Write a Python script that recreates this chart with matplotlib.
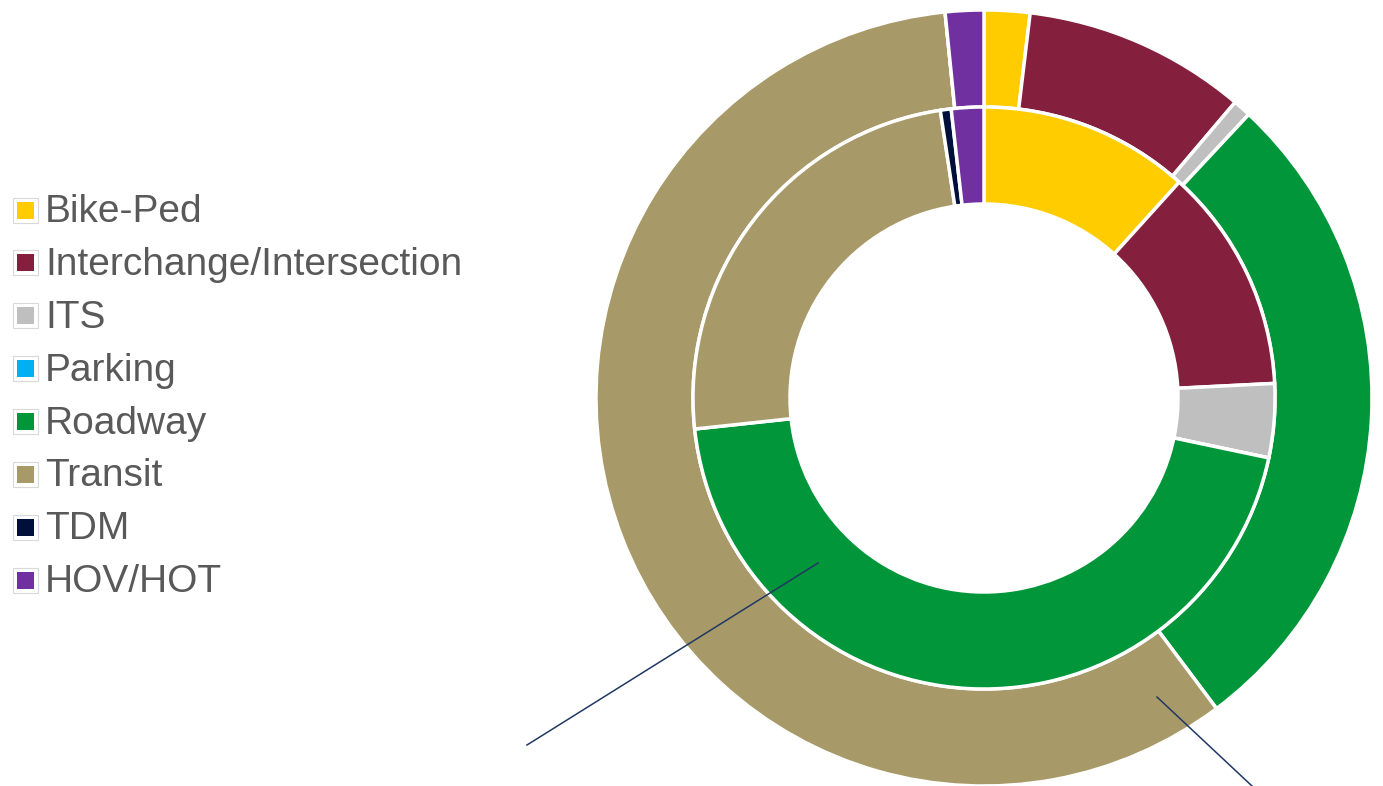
import matplotlib.pyplot as plt
from matplotlib.patches import Rectangle

categories = ["Bike-Ped", "Interchange/Intersection", "ITS", "Parking",
              "Roadway", "Transit", "TDM", "HOV/HOT"]
colors = ["#FFCC00", "#841F3D", "#BFBFBF", "#00B0F0",
          "#009639", "#A89968", "#00103A", "#7030A0"]

# share of funding (%)
inner_share = [11.7, 12.5, 4.1, 0.0, 45.0, 24.3, 0.6, 1.8]
outer_share = [1.9, 9.3, 0.75, 0.0, 27.8, 58.6, 0.0, 1.6]

W, H = 1383, 786
CX, CY, R = 984, 398, 388


def px(x, y):
    # pixel position (from top-left) -> data coords, ring radius = 1
    return (x - CX) / R, (CY - y) / R


fig = plt.figure(figsize=(W / 100, H / 100), dpi=100)
ax = fig.add_axes([0, 0, 1, 1])
x0, y0 = px(0, H)
x1, y1 = px(W, 0)
ax.set_xlim(x0, x1)
ax.set_ylim(y0, y1)
ax.axis("off")

wedge = dict(edgecolor="white", linewidth=2.5)
ax.pie(outer_share, colors=colors, radius=1.0, startangle=90, counterclock=False,
       wedgeprops=dict(width=0.25, **wedge), frame=False)
ax.pie(inner_share, colors=colors, radius=0.75, startangle=90, counterclock=False,
       wedgeprops=dict(width=0.25, **wedge), frame=False)
ax.set_xlim(x0, x1)
ax.set_ylim(y0, y1)
ax.set_aspect("auto")

# leader lines (labels are outside the crop)
for (a, b), (c, d) in [((818, 563), (527, 745)), ((1157, 697), (1252, 786))]:
    p, q = px(a, b), px(c, d)
    ax.plot([p[0], q[0]], [p[1], q[1]], color="#1F3864", lw=1.1)

# legend drawn by hand
for i, (name, col) in enumerate(zip(categories, colors)):
    base = 222 + 52.9 * i
    mx, my = px(13, base - 12 + 12.5)
    ax.add_patch(Rectangle((mx, my), 25 / R, 25 / R, facecolor="white",
                           edgecolor="#D9D9D9", lw=0.8))
    ix, iy = px(17, base - 12 + 8.5)
    ax.add_patch(Rectangle((ix, iy), 17 / R, 17 / R, facecolor=col, edgecolor="none"))
    tx, ty = px(45, base)
    ax.text(tx, ty, name, fontsize=28, family="Liberation Sans", color="#595959",
            ha="left", va="baseline")

fig.savefig("out.png", dpi=100)
